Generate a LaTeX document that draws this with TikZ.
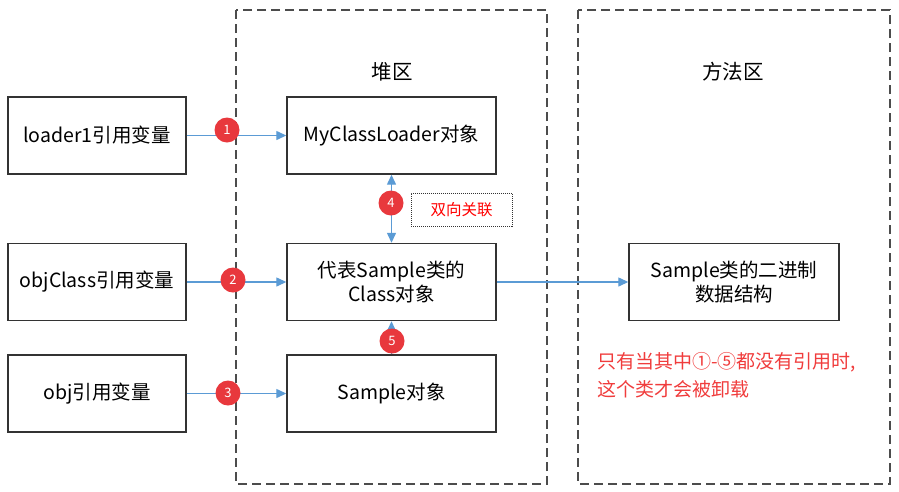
\documentclass[tikz,border=0pt]{standalone}
\usepackage{fontspec}
\setmainfont{Noto Sans CJK SC}
\usetikzlibrary{arrows.meta}
\definecolor{lblue}{HTML}{5B9BD5}
\definecolor{cred}{HTML}{E8383D}
\definecolor{tred}{HTML}{F03C3C}
\tikzset{
  box/.style={draw=black!80, line width=1.4pt, minimum width=178pt, minimum height=77pt, inner sep=0pt, font=\fontsize{19.5}{24}\selectfont, align=center},
  mbox/.style={box, minimum width=209pt},
  region/.style={draw=black!70, line width=1.4pt, dash pattern=on 9pt off 5pt},
  conn/.style={draw=lblue, line width=1.3pt, -{Triangle[length=10pt,width=9pt]}},
  badge/.style={circle, fill=cred, text=white, minimum size=25pt, inner sep=0pt, font=\fontsize{13}{15}\selectfont},
  title/.style={font=\fontsize{20.5}{24}\selectfont},
}
\begin{document}
\begin{tikzpicture}[x=1pt,y=-1pt]
\useasboundingbox (0,0) rectangle (899,491);
% regions
\draw[region] (236,10) rectangle (547,484);
\draw[region] (578,10) rectangle (890,484);
\node[title] (heap) at (392,72) {堆区};
\node[title] (meth) at (733,72) {方法区};
% left boxes
\node[box] (r1) at (97,135.5) {loader1引用变量};
\node[box] (r2) at (97,282) {objClass引用变量};
\node[box] (r3) at (97,393.5) {obj引用变量};
% heap boxes
\node[mbox] (h1) at (391.5,135.5) {MyClassLoader对象};
\node[mbox] (h2) at (391.5,282) {代表Sample类的\\Class对象};
\node[mbox] (h3) at (391.5,393.5) {Sample对象};
% method box
\node[mbox, minimum width=210pt] (m1) at (734,282) {Sample类的二进制\\数据结构};
% connectors
\draw[conn] (r1) -- (h1);
\draw[conn] (r2) -- (h2);
\draw[conn] (r3) -- (h3);
\draw[conn, {Triangle[length=10pt,width=9pt]}-{Triangle[length=10pt,width=9pt]}] (h1.south) -- (h2.north);
\draw[conn] (h3.north) -- (h2.south);
\draw[conn] (h2) -- (m1);
% badges
\node[badge] (b1) at (227,130) {1};
\node[badge] (b2) at (233,280) {2};
\node[badge] (b3) at (228,393) {3};
\node[badge] (b4) at (391,203) {4};
\node[badge] (b5) at (392,341) {5};
% note
\node[draw=black!80, densely dotted, line width=1pt, minimum width=101pt, minimum height=33pt, text=red, font=\fontsize{15.5}{18}\selectfont] (note) at (461.5,209.5) {双向关联};
\node[anchor=north west, text=tred, align=left, font=\fontsize{19}{28.5}\selectfont, inner sep=0pt] (txt) at (597,352) {只有当其中①-⑤都没有引用时,\\这个类才会被卸载};
\end{tikzpicture}
\end{document}
